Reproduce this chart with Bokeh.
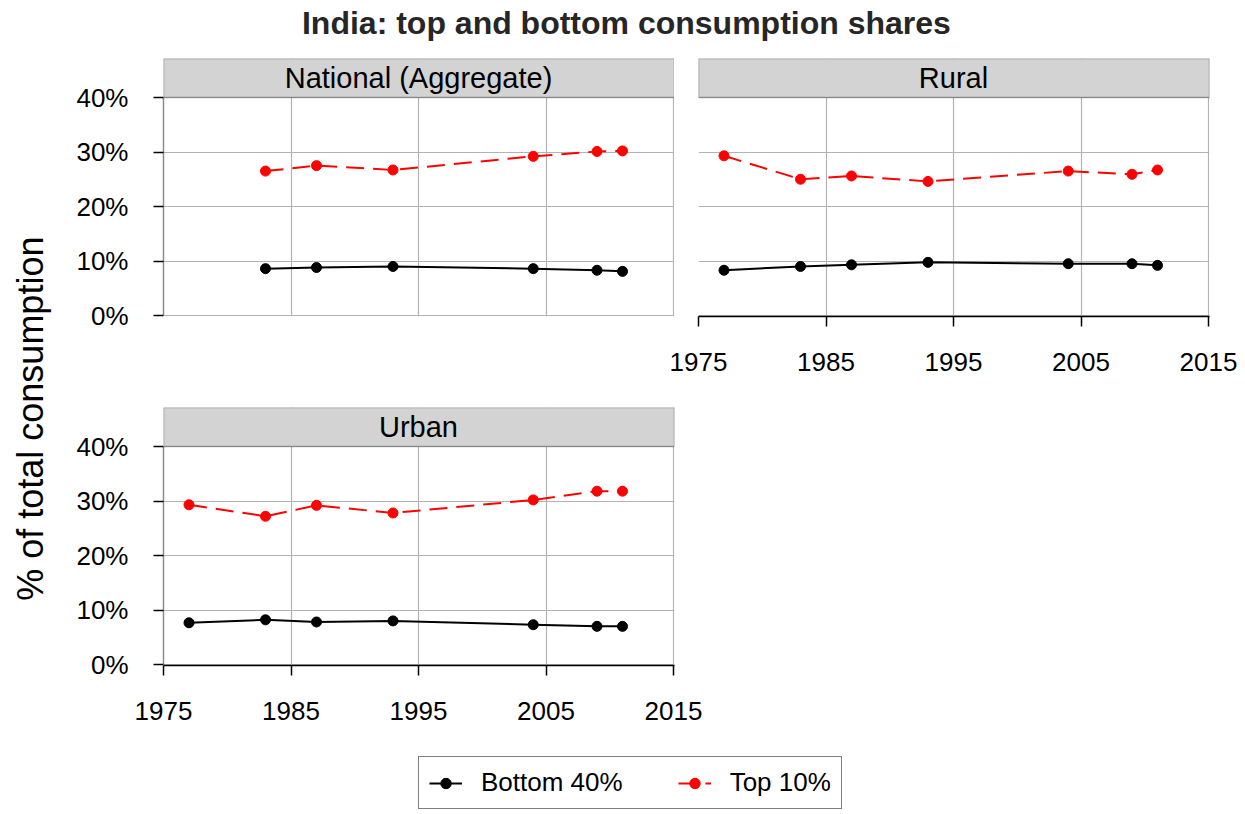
import math
from bokeh.plotting import figure
from bokeh.layouts import column, row
from bokeh.models import (Range1d, FixedTicker, PrintfTickFormatter, BoxAnnotation,
                          Label, Legend, LegendItem)
from bokeh.core.properties import value
from bokeh.embed import file_html
from bokeh.resources import INLINE

FONT = "Liberation Sans"

# ---------------- data (percent of total consumption) ----------------
years_national = [1983, 1987, 1993, 2004, 2009, 2011]
national_bottom40 = [8.6, 8.8, 9.0, 8.6, 8.3, 8.1]
national_top10 = [26.5, 27.5, 26.7, 29.2, 30.1, 30.2]

years_rural = [1977, 1983, 1987, 1993, 2004, 2009, 2011]
rural_bottom40 = [8.3, 9.0, 9.3, 9.75, 9.5, 9.5, 9.2]
rural_top10 = [29.3, 25.0, 25.6, 24.6, 26.5, 25.9, 26.7]

years_urban = [1977, 1983, 1987, 1993, 2004, 2009, 2011]
urban_bottom40 = [7.65, 8.2, 7.8, 8.0, 7.3, 7.0, 7.0]
urban_top10 = [29.3, 27.2, 29.2, 27.8, 30.2, 31.8, 31.8]

x_ticks = [1975, 1985, 1995, 2005, 2015]
y_ticks = [0, 10, 20, 30, 40]
series_labels = ["Bottom 40%", "Top 10%"]
series_colors = ["black", "red"]
series_dash = ["solid", "18 9"]

TITLE = "India: top and bottom consumption shares"
YLABEL = "% of total consumption"

# ---------------- geometry ----------------
PANEL_H = 218          # px for 0..40 %
STRIP_H = 39           # facet strip height
PX_PER_PCT = PANEL_H / 40
Y_START = -1 / PX_PER_PCT          # one pixel below 0 so the 0 line shows
YMAX = 40 + STRIP_H / PX_PER_PCT
FRAME_H = PANEL_H + STRIP_H + 1
FRAME_W = 511
X_END = 2015 + 40 / 510            # one pixel past 2015 so its grid line shows


def panel(name, years, bottom, top, show_y, show_x, ml, mr, mb, transparent=False):
    p = figure(frame_width=FRAME_W, frame_height=FRAME_H,
               x_range=Range1d(1975, X_END), y_range=Range1d(Y_START, YMAX),
               output_backend="svg", toolbar_location=None,
               min_border_left=ml, min_border_right=mr,
               min_border_top=0, min_border_bottom=mb)
    p.outline_line_color = None
    p.background_fill_color = "white"
    if transparent:
        p.border_fill_alpha = 0
    # grids
    p.xgrid.ticker = FixedTicker(ticks=x_ticks)
    p.ygrid.ticker = FixedTicker(ticks=y_ticks)
    p.grid.grid_line_color = "#b3b3b3"
    p.grid.grid_line_width = 1.2
    p.xgrid.bounds = (0, 40)
    # axes
    p.xaxis.ticker = FixedTicker(ticks=x_ticks)
    p.yaxis.ticker = FixedTicker(ticks=y_ticks)
    p.yaxis.formatter = PrintfTickFormatter(format="%d%%")
    p.yaxis.bounds = (0, 40)
    for ax in (p.xaxis, p.yaxis):
        ax.major_label_text_font = FONT
        ax.major_label_text_font_size = "26px"
        ax.major_label_text_color = "black"
        ax.major_tick_out = 10
        ax.major_tick_in = 0
        ax.major_tick_line_color = "black"
        ax.major_tick_line_width = 1.5
        ax.minor_tick_line_color = None
    p.xaxis.axis_line_color = "black"
    p.xaxis.axis_line_width = 1.5
    p.yaxis.axis_line_color = "#8c8c8c"
    p.yaxis.axis_line_width = 1.5
    p.yaxis.major_label_standoff = 25
    p.xaxis.major_label_standoff = 26
    p.xaxis.visible = show_x
    p.yaxis.visible = show_y

    # facet strip
    p.add_layout(BoxAnnotation(left=1975, right=X_END, bottom=40, top=YMAX,
                               fill_color="#d3d3d3", fill_alpha=1,
                               line_color="black", line_width=1.5))
    p.add_layout(Label(x=1995, y=(40 + YMAX) / 2, text=name,
                       text_align="center", text_baseline="middle",
                       text_font=FONT, text_font_size="29px", text_color="black"))

    for vals, col, dash in zip([bottom, top], series_colors, series_dash):
        p.line(years, vals, line_color=col, line_width=2, line_dash=dash)
    for vals, col in zip([bottom, top], series_colors):
        p.scatter(years, vals, size=10, color=col)
    return p


pA = panel("National (Aggregate)", years_national, national_bottom40, national_top10,
           show_y=True, show_x=False, ml=105, mr=0, mb=91)
pB = panel("Rural", years_rural, rural_bottom40, rural_top10,
           show_y=False, show_x=True, ml=32, mr=28, mb=91, transparent=True)
pB.margin = (0, 0, 0, -8)
pC = panel("Urban", years_urban, urban_bottom40, urban_top10,
           show_y=True, show_x=True, ml=105, mr=40, mb=91)

# title
t = figure(width=1237, height=58, x_range=Range1d(0, 1), y_range=Range1d(0, 1),
           output_backend="svg", toolbar_location=None, min_border=0,
           x_axis_location=None, y_axis_location=None)
t.outline_line_color = None
t.grid.visible = False
t.text(x=[0.506], y=[0.62], text=[TITLE], text_align="center", text_baseline="middle",
       text_font=value(FONT), text_font_style="bold", text_font_size="32px",
       text_color="#262626")

# y axis title
yl = figure(width=58, height=698, x_range=Range1d(0, 1), y_range=Range1d(0, 1),
            output_backend="svg", toolbar_location=None, min_border=0,
            x_axis_location=None, y_axis_location=None)
yl.outline_line_color = None
yl.grid.visible = False
yl.text(x=[0.52], y=[0.484], text=[YLABEL], angle=math.pi / 2,
        text_align="center", text_baseline="middle",
        text_font=value(FONT), text_font_size="36px", text_color="black")

# legend (its renderers hold the Urban series but lie outside this figure's view)
lg = figure(width=1237, height=56, x_range=Range1d(0, 1), y_range=Range1d(0, 1),
            output_backend="svg", toolbar_location=None, min_border=0,
            x_axis_location=None, y_axis_location=None)
lg.outline_line_color = None
lg.grid.visible = False
items = []
for lab, col, dash, vals in zip(series_labels, series_colors, series_dash,
                                [urban_bottom40, urban_top10]):
    lr = lg.line(years_urban, vals, line_color=col, line_width=2, line_dash=dash)
    sr = lg.scatter(years_urban, vals, size=10, color=col)
    items.append(LegendItem(label=lab, renderers=[lr, sr]))
legend = Legend(items=items, orientation="horizontal", location=(418, 3),
                label_text_font=FONT, label_text_font_size="26px",
                label_text_color="black",
                glyph_width=33, glyph_height=26, label_height=26,
                label_standoff=19, spacing=55, padding=10, margin=0,
                border_line_color="black", border_line_width=1.5,
                background_fill_color="white", background_fill_alpha=1)
lg.add_layout(legend, "center")

layout = column(t, row(yl, column(row(pA, pB), pC)), lg)

with open("out.html", "w") as f:
    f.write(file_html(layout, INLINE))
